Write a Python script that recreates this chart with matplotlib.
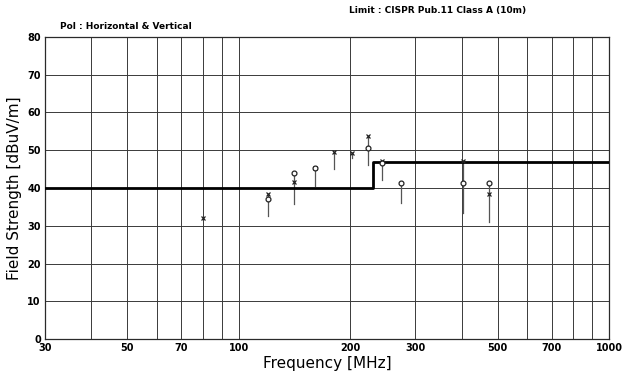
import numpy as np
import matplotlib
matplotlib.use('Agg')
import matplotlib.pyplot as plt

freq = [80, 120, 141, 161, 181, 202, 224, 244, 274, 404, 474]
peak_x = [32, 38.5, 41.5, 45.4, 49.6, 49.3, 53.8, 47.2, np.nan, 47.2, 38.5]
qp_o = [np.nan, 37, 44, 45.4, np.nan, np.nan, 50.7, 46.5, 41.2, 41.4, 41.4]
line_bottom = [32, 32.7, 35.9, 40.6, 45, 48, 46, 42, 36, 33.5, 31]

# CISPR 11 class A (10 m) limit
limit_f = [30, 230, 230, 1000]
limit_v = [40, 40, 47, 47]

grid_f = [40, 50, 60, 70, 80, 90, 100, 200, 300, 400, 500, 600, 700, 800, 900]
xtick_f = [30, 50, 70, 100, 200, 300, 500, 700, 1000]

fig = plt.figure(figsize=(6.28, 3.81), dpi=100)
ax = fig.add_axes([0.0717, 0.110, 0.8983, 0.793])

ax.set_xscale('log')
ax.set_xlim(30, 1000)
ax.set_ylim(0, 80)

for g in grid_f:
    ax.axvline(g, color='#3a3a3a', lw=0.7, zorder=1)
for y in range(10, 80, 10):
    ax.axhline(y, color='#3a3a3a', lw=0.7, zorder=1)

ax.plot(limit_f, limit_v, color='black', lw=2.0, zorder=3)

for f, top, o, b in zip(freq, peak_x, qp_o, line_bottom):
    hi = np.nanmax([top, o])
    ax.plot([f, f], [b, hi], color='#555555', lw=0.9, zorder=2)
ax.plot(freq, peak_x, 'x', color='#222222', ms=3.5, mew=0.9, zorder=4)
ax.plot(freq, qp_o, 'o', mfc='white', mec='#222222', ms=3.5, mew=0.9, zorder=4)

ax.set_xticks(xtick_f)
ax.set_xticklabels([str(v) for v in xtick_f])
ax.xaxis.set_minor_locator(matplotlib.ticker.NullLocator())
ax.set_yticks(range(0, 90, 10))
ax.tick_params(axis='both', length=0, labelsize=7, pad=3)
for lbl in ax.get_xticklabels() + ax.get_yticklabels():
    lbl.set_fontweight('bold')
for s in ax.spines.values():
    s.set_color('#2a2a2a')
    s.set_linewidth(0.9)

ax.set_xlabel('Frequency [MHz]', fontsize=11, labelpad=2)
ax.set_ylabel('Field Strength [dBuV/m]', fontsize=11, labelpad=4)

fig.text(0.096, 0.925, 'Pol : Horizontal & Vertical', fontsize=6.5, fontweight='bold')
fig.text(0.555, 0.965, 'Limit : CISPR Pub.11 Class A (10m)', fontsize=6.5, fontweight='bold')

fig.savefig('out.png', dpi=100)
